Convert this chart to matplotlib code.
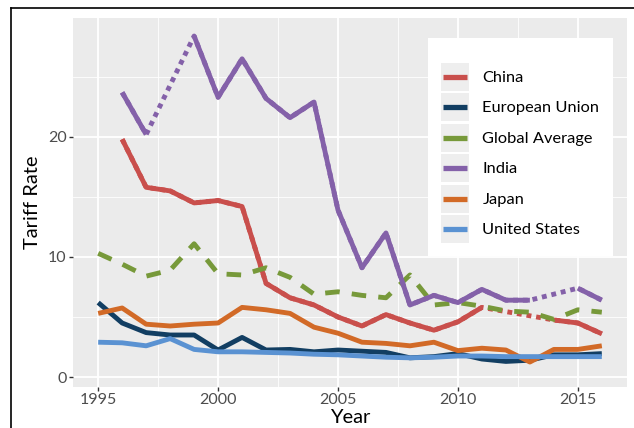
import matplotlib
matplotlib.use("Agg")
import matplotlib.pyplot as plt
import numpy as np
from matplotlib.lines import Line2D
from matplotlib.patches import Rectangle
from matplotlib.legend_handler import HandlerLine2D

plt.rcParams["font.family"] = ["Lato", "DejaVu Sans"]

nan = np.nan
years = np.arange(1995, 2017)

china = [nan, 19.8, 15.8, 15.5, 14.5, 14.7, 14.2, 7.8, 6.6, 6.0, 5.0, 4.25, 5.2, 4.5, 3.9, 4.6,
         5.8, nan, nan, 4.75, 4.5, 3.6]
eu = [6.2, 4.5, 3.7, 3.5, 3.5, 2.25, 3.3, 2.25, 2.3, 2.1, 2.25, 2.15, 2.05, 1.6, 1.7, 1.95,
      1.5, 1.3, 1.4, 1.85, 1.85, 1.95]
global_avg = [10.3, 9.4, 8.4, 8.9, 11.1, 8.6, 8.5, 9.1, 8.3, 6.9, 7.1, 6.8, 6.6, 8.5, 6.0, 6.2,
              5.9, 5.5, 5.4, 4.8, 5.6, 5.4]
india = [nan, 23.7, 20.2, nan, 28.4, 23.3, 26.5, 23.2, 21.6, 22.9, 13.9, 9.1, 12.0, 6.0, 6.8, 6.2,
         7.3, 6.4, 6.4, nan, 7.4, 6.4]
japan = [5.3, 5.75, 4.4, 4.25, 4.4, 4.5, 5.8, 5.6, 5.3, 4.15, 3.65, 2.9, 2.8, 2.6, 2.9, 2.2,
         2.4, 2.25, 1.25, 2.3, 2.3, 2.6]
us = [2.9, 2.85, 2.6, 3.2, 2.3, 2.1, 2.1, 2.05, 2.0, 1.9, 1.85, 1.75, 1.65, 1.6, 1.65, 1.75,
      1.75, 1.7, 1.7, 1.7, 1.7, 1.7]

names = ["China", "European Union", "Global Average", "India", "Japan", "United States"]
series = [china, eu, global_avg, india, japan, us]
colors = ["#C94F4C", "#123E62", "#77993A", "#8461A9", "#D26A27", "#5A92D2"]

W, H = 634, 428
fig = plt.figure(figsize=(W / 100, H / 100), dpi=100)
ax = fig.add_axes([73 / W, 1 - 387 / H, (627 - 73) / W, (387 - 18) / H])
ax.set_facecolor("#EBEBEB")
for s in ax.spines.values():
    s.set_visible(False)

ax.set_xlim(1993.95, 2017.05)
ax.set_ylim(-0.83, 29.9)
ax.set_xticks([1995, 2000, 2005, 2010, 2015])
ax.set_yticks([0, 10, 20])
ax.set_xticks([1997.5, 2002.5, 2007.5, 2012.5], minor=True)
ax.set_yticks([5, 15, 25], minor=True)
ax.grid(which="major", color="white", lw=1.3)
ax.grid(which="minor", color="white", lw=0.6)
ax.set_axisbelow(True)
ax.tick_params(which="major", length=3, width=1, color="#333333", labelcolor="#4D4D4D",
               labelsize=11.5, pad=1.5)
ax.tick_params(which="minor", length=0)

lw = 3.5
for name, vals, c in zip(names, series, colors):
    v = np.array(vals, dtype=float)
    ok = ~np.isnan(v)
    if name == "Global Average":
        ax.plot(years[ok], v[ok], color=c, lw=lw, ls=(0, (3, 2.5)), solid_capstyle="butt")
        continue
    if (~ok[ok.argmax():]).any():
        # dotted bridge across missing years
        ax.plot(years[ok], v[ok], color=c, lw=lw, ls=(0, (1, 1)), dash_capstyle="butt")
    ax.plot(years, v, color=c, lw=lw, solid_capstyle="butt")

ax.set_xlabel("Year", fontsize=14.5, labelpad=1)
ax.set_ylabel("Tariff Rate", fontsize=14.5, labelpad=5)


class KeyHandler(HandlerLine2D):
    def create_artists(self, legend, orig_handle, xdescent, ydescent, width, height, fontsize, trans):
        bg = Rectangle((-xdescent, -ydescent), width, height,
                       facecolor="#EEEEEE", edgecolor="none", transform=trans)
        ln = Line2D([-xdescent + 1.5, -xdescent + width - 1.5], [height / 2 - ydescent] * 2,
                    color=orig_handle.get_color(), lw=orig_handle.get_linewidth(),
                    solid_capstyle="butt", transform=trans)
        return [bg, ln]


fs = 11.8
handles = [Line2D([], [], color=c, lw=3.8) for c in colors]
leg = ax.legend(handles, names, loc="upper left",
                bbox_to_anchor=((428 - 73) / (627 - 73), 1 - (38 - 18) / (387 - 18)),
                frameon=True, fancybox=False, edgecolor="none", facecolor="white", framealpha=1,
                fontsize=fs, handlelength=1.72, handleheight=2.26, labelspacing=0.147,
                handletextpad=0.8, borderpad=0.8, borderaxespad=0,
                title=" ", title_fontsize=6.5,
                handler_map={Line2D: KeyHandler()})

# screenshot frame
fig.add_artist(Line2D([11 / W, 1], [1 - 8 / H, 1 - 8 / H], color="black", lw=1.2))
fig.add_artist(Line2D([11 / W, 11 / W], [0, 1 - 8 / H], color="black", lw=1.2))

fig.savefig("out.png", dpi=100)
